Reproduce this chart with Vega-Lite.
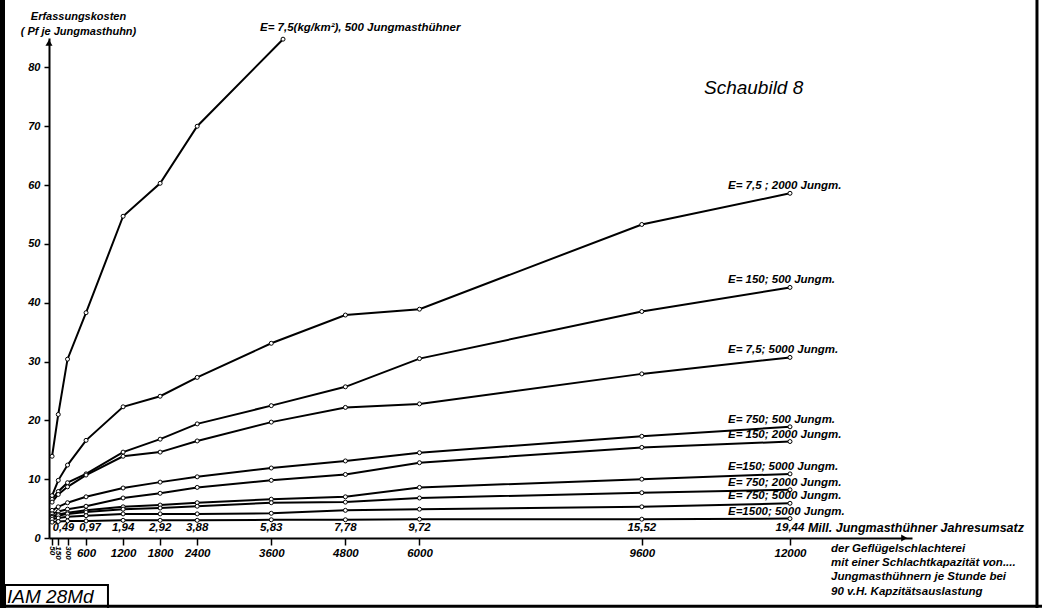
{
  "$schema": "https://vega.github.io/schema/vega-lite/v6.json",
  "width": 863,
  "height": 500,
  "autosize": {"type": "none"},
  "padding": {"left": 49, "top": 38, "right": 130, "bottom": 70},
  "background": "white",
  "config": {
    "view": {"stroke": null},
    "font": "Liberation Sans",
    "axis": {"grid": false, "domainColor": "black", "tickColor": "black", "labelColor": "black", "titleColor": "black", "labelFont": "Liberation Sans", "titleFont": "Liberation Sans", "labelFontStyle": "italic", "labelFontWeight": "bold", "titleFontStyle": "italic", "titleFontWeight": "bold"}
  },
  "datasets": {
    "curves": [
      {"s": "E= 7,5(kg/km²), 500 Jungmasthühner", "x": 50, "y": 13.9},
      {"s": "E= 7,5(kg/km²), 500 Jungmasthühner", "x": 150, "y": 21.0},
      {"s": "E= 7,5(kg/km²), 500 Jungmasthühner", "x": 300, "y": 30.4},
      {"s": "E= 7,5(kg/km²), 500 Jungmasthühner", "x": 600, "y": 38.3},
      {"s": "E= 7,5(kg/km²), 500 Jungmasthühner", "x": 1200, "y": 54.7},
      {"s": "E= 7,5(kg/km²), 500 Jungmasthühner", "x": 1800, "y": 60.3},
      {"s": "E= 7,5(kg/km²), 500 Jungmasthühner", "x": 2400, "y": 70.0},
      {"s": "E= 7,5(kg/km²), 500 Jungmasthühner", "x": 3790, "y": 84.8},

      {"s": "E= 7,5 ; 2000 Jungm.", "x": 50, "y": 7.2},
      {"s": "E= 7,5 ; 2000 Jungm.", "x": 150, "y": 9.8},
      {"s": "E= 7,5 ; 2000 Jungm.", "x": 300, "y": 12.4},
      {"s": "E= 7,5 ; 2000 Jungm.", "x": 600, "y": 16.6},
      {"s": "E= 7,5 ; 2000 Jungm.", "x": 1200, "y": 22.3},
      {"s": "E= 7,5 ; 2000 Jungm.", "x": 1800, "y": 24.1},
      {"s": "E= 7,5 ; 2000 Jungm.", "x": 2400, "y": 27.3},
      {"s": "E= 7,5 ; 2000 Jungm.", "x": 3600, "y": 33.1},
      {"s": "E= 7,5 ; 2000 Jungm.", "x": 4800, "y": 37.9},
      {"s": "E= 7,5 ; 2000 Jungm.", "x": 6000, "y": 38.9},
      {"s": "E= 7,5 ; 2000 Jungm.", "x": 9600, "y": 53.3},
      {"s": "E= 7,5 ; 2000 Jungm.", "x": 12000, "y": 58.6},

      {"s": "E= 150; 500 Jungm.", "x": 50, "y": 6.6},
      {"s": "E= 150; 500 Jungm.", "x": 150, "y": 7.9},
      {"s": "E= 150; 500 Jungm.", "x": 300, "y": 9.4},
      {"s": "E= 150; 500 Jungm.", "x": 600, "y": 10.9},
      {"s": "E= 150; 500 Jungm.", "x": 1200, "y": 14.6},
      {"s": "E= 150; 500 Jungm.", "x": 1800, "y": 16.8},
      {"s": "E= 150; 500 Jungm.", "x": 2400, "y": 19.4},
      {"s": "E= 150; 500 Jungm.", "x": 3600, "y": 22.5},
      {"s": "E= 150; 500 Jungm.", "x": 4800, "y": 25.7},
      {"s": "E= 150; 500 Jungm.", "x": 6000, "y": 30.5},
      {"s": "E= 150; 500 Jungm.", "x": 9600, "y": 38.5},
      {"s": "E= 150; 500 Jungm.", "x": 12000, "y": 42.6},

      {"s": "E= 7,5; 5000 Jungm.", "x": 50, "y": 6.1},
      {"s": "E= 7,5; 5000 Jungm.", "x": 150, "y": 7.4},
      {"s": "E= 7,5; 5000 Jungm.", "x": 300, "y": 8.7},
      {"s": "E= 7,5; 5000 Jungm.", "x": 600, "y": 10.7},
      {"s": "E= 7,5; 5000 Jungm.", "x": 1200, "y": 13.9},
      {"s": "E= 7,5; 5000 Jungm.", "x": 1800, "y": 14.6},
      {"s": "E= 7,5; 5000 Jungm.", "x": 2400, "y": 16.5},
      {"s": "E= 7,5; 5000 Jungm.", "x": 3600, "y": 19.7},
      {"s": "E= 7,5; 5000 Jungm.", "x": 4800, "y": 22.2},
      {"s": "E= 7,5; 5000 Jungm.", "x": 6000, "y": 22.8},
      {"s": "E= 7,5; 5000 Jungm.", "x": 9600, "y": 27.9},
      {"s": "E= 7,5; 5000 Jungm.", "x": 12000, "y": 30.7},

      {"s": "E= 750; 500 Jungm.", "x": 50, "y": 4.7},
      {"s": "E= 750; 500 Jungm.", "x": 150, "y": 5.3},
      {"s": "E= 750; 500 Jungm.", "x": 300, "y": 6.0},
      {"s": "E= 750; 500 Jungm.", "x": 600, "y": 7.0},
      {"s": "E= 750; 500 Jungm.", "x": 1200, "y": 8.5},
      {"s": "E= 750; 500 Jungm.", "x": 1800, "y": 9.5},
      {"s": "E= 750; 500 Jungm.", "x": 2400, "y": 10.4},
      {"s": "E= 750; 500 Jungm.", "x": 3600, "y": 11.9},
      {"s": "E= 750; 500 Jungm.", "x": 4800, "y": 13.1},
      {"s": "E= 750; 500 Jungm.", "x": 6000, "y": 14.5},
      {"s": "E= 750; 500 Jungm.", "x": 9600, "y": 17.3},
      {"s": "E= 750; 500 Jungm.", "x": 12000, "y": 18.9},

      {"s": "E= 150; 2000 Jungm.", "x": 50, "y": 4.1},
      {"s": "E= 150; 2000 Jungm.", "x": 150, "y": 4.5},
      {"s": "E= 150; 2000 Jungm.", "x": 300, "y": 4.9},
      {"s": "E= 150; 2000 Jungm.", "x": 600, "y": 5.4},
      {"s": "E= 150; 2000 Jungm.", "x": 1200, "y": 6.8},
      {"s": "E= 150; 2000 Jungm.", "x": 1800, "y": 7.6},
      {"s": "E= 150; 2000 Jungm.", "x": 2400, "y": 8.6},
      {"s": "E= 150; 2000 Jungm.", "x": 3600, "y": 9.8},
      {"s": "E= 150; 2000 Jungm.", "x": 4800, "y": 10.8},
      {"s": "E= 150; 2000 Jungm.", "x": 6000, "y": 12.8},
      {"s": "E= 150; 2000 Jungm.", "x": 9600, "y": 15.4},
      {"s": "E= 150; 2000 Jungm.", "x": 12000, "y": 16.4},

      {"s": "E=150; 5000 Jungm.", "x": 50, "y": 3.7},
      {"s": "E=150; 5000 Jungm.", "x": 150, "y": 4.0},
      {"s": "E=150; 5000 Jungm.", "x": 300, "y": 4.3},
      {"s": "E=150; 5000 Jungm.", "x": 600, "y": 4.7},
      {"s": "E=150; 5000 Jungm.", "x": 1200, "y": 5.3},
      {"s": "E=150; 5000 Jungm.", "x": 1800, "y": 5.6},
      {"s": "E=150; 5000 Jungm.", "x": 2400, "y": 6.0},
      {"s": "E=150; 5000 Jungm.", "x": 3600, "y": 6.6},
      {"s": "E=150; 5000 Jungm.", "x": 4800, "y": 7.0},
      {"s": "E=150; 5000 Jungm.", "x": 6000, "y": 8.6},
      {"s": "E=150; 5000 Jungm.", "x": 9600, "y": 10.0},
      {"s": "E=150; 5000 Jungm.", "x": 12000, "y": 10.9},

      {"s": "E= 750; 2000 Jungm.", "x": 50, "y": 3.5},
      {"s": "E= 750; 2000 Jungm.", "x": 150, "y": 3.8},
      {"s": "E= 750; 2000 Jungm.", "x": 300, "y": 4.1},
      {"s": "E= 750; 2000 Jungm.", "x": 600, "y": 4.4},
      {"s": "E= 750; 2000 Jungm.", "x": 1200, "y": 4.9},
      {"s": "E= 750; 2000 Jungm.", "x": 1800, "y": 5.1},
      {"s": "E= 750; 2000 Jungm.", "x": 2400, "y": 5.4},
      {"s": "E= 750; 2000 Jungm.", "x": 3600, "y": 6.0},
      {"s": "E= 750; 2000 Jungm.", "x": 4800, "y": 6.1},
      {"s": "E= 750; 2000 Jungm.", "x": 6000, "y": 6.8},
      {"s": "E= 750; 2000 Jungm.", "x": 9600, "y": 7.7},
      {"s": "E= 750; 2000 Jungm.", "x": 12000, "y": 8.2},

      {"s": "E= 750; 5000 Jungm.", "x": 50, "y": 3.2},
      {"s": "E= 750; 5000 Jungm.", "x": 150, "y": 3.4},
      {"s": "E= 750; 5000 Jungm.", "x": 300, "y": 3.6},
      {"s": "E= 750; 5000 Jungm.", "x": 600, "y": 3.8},
      {"s": "E= 750; 5000 Jungm.", "x": 1200, "y": 4.1},
      {"s": "E= 750; 5000 Jungm.", "x": 1800, "y": 4.1},
      {"s": "E= 750; 5000 Jungm.", "x": 2400, "y": 4.1},
      {"s": "E= 750; 5000 Jungm.", "x": 3600, "y": 4.2},
      {"s": "E= 750; 5000 Jungm.", "x": 4800, "y": 4.7},
      {"s": "E= 750; 5000 Jungm.", "x": 6000, "y": 4.9},
      {"s": "E= 750; 5000 Jungm.", "x": 9600, "y": 5.3},
      {"s": "E= 750; 5000 Jungm.", "x": 12000, "y": 5.9},

      {"s": "E=1500; 5000 Jungm.", "x": 50, "y": 2.7},
      {"s": "E=1500; 5000 Jungm.", "x": 150, "y": 2.8},
      {"s": "E=1500; 5000 Jungm.", "x": 300, "y": 2.9},
      {"s": "E=1500; 5000 Jungm.", "x": 600, "y": 2.9},
      {"s": "E=1500; 5000 Jungm.", "x": 1200, "y": 3.0},
      {"s": "E=1500; 5000 Jungm.", "x": 1800, "y": 3.0},
      {"s": "E=1500; 5000 Jungm.", "x": 2400, "y": 3.0},
      {"s": "E=1500; 5000 Jungm.", "x": 3600, "y": 3.1},
      {"s": "E=1500; 5000 Jungm.", "x": 4800, "y": 3.1},
      {"s": "E=1500; 5000 Jungm.", "x": 6000, "y": 3.2},
      {"s": "E=1500; 5000 Jungm.", "x": 9600, "y": 3.2},
      {"s": "E=1500; 5000 Jungm.", "x": 12000, "y": 3.3}
    ],
    "mill": [
      {"cap": 300, "t": "0,49"},
      {"cap": 600, "t": "0,97"},
      {"cap": 1200, "t": "1,94"},
      {"cap": 1800, "t": "2,92"},
      {"cap": 2400, "t": "3,88"},
      {"cap": 3600, "t": "5,83"},
      {"cap": 4800, "t": "7,78"},
      {"cap": 6000, "t": "9,72"},
      {"cap": 9600, "t": "15,52"},
      {"cap": 12000, "t": "19,44"}
    ],
    "small": [
      {"cap": 50, "t": "50"},
      {"cap": 150, "t": "150"},
      {"cap": 300, "t": "300"}
    ],
    "one": [{}]
  },
  "layer": [
    {
      "data": {"name": "curves"},
      "mark": {"type": "line", "color": "black", "strokeWidth": 2},
      "encoding": {
        "x": {"field": "x", "type": "quantitative",
              "scale": {"domain": [0, 13976], "nice": false, "zero": false},
              "axis": {"values": [50, 150, 300, 600, 1200, 1800, 2400, 3600, 4800, 6000, 9600, 12000],
                       "labelExpr": "datum.value < 500 ? '' : datum.label", "format": "d",
                       "title": null, "tickSize": 7, "domainWidth": 2, "tickWidth": 1.5,
                       "labelFontSize": 11.5, "labelPadding": 2, "labelOverlap": false, "labelFlush": false}},
        "y": {"field": "y", "type": "quantitative",
              "scale": {"domain": [0, 85], "nice": false, "zero": false},
              "axis": {"values": [0, 5, 10, 15, 20, 25, 30, 35, 40, 45, 50, 55, 60, 65, 70, 75, 80],
                       "labelExpr": "datum.value % 10 == 0 ? datum.label : ''",
                       "tickSize": 5, "domainWidth": 2, "tickWidth": 1.5, "labelFontSize": 11, "labelPadding": 4,
                       "title": ["Erfassungskosten", "( Pf je Jungmasthuhn)"],
                       "titleAngle": 0, "titleX": 29, "titleY": -28, "titleAlign": "center",
                       "titleBaseline": "top", "titleFontSize": 11, "titleLineHeight": 15}},
        "detail": {"field": "s", "type": "nominal"}
      }
    },
    {
      "data": {"name": "curves"},
      "mark": {"type": "point", "shape": "circle", "filled": true, "fill": "white", "stroke": "black", "strokeWidth": 1, "size": 16, "opacity": 1},
      "encoding": {
        "x": {"field": "x", "type": "quantitative"},
        "y": {"field": "y", "type": "quantitative"}
      }
    },
    {
      "data": {"name": "curves"},
      "transform": [{"filter": "datum.x == 12000"}],
      "mark": {"type": "text", "align": "left", "baseline": "middle", "dx": -62, "dy": -7, "fontSize": 11.5, "fontStyle": "italic", "fontWeight": "bold", "color": "black"},
      "encoding": {
        "x": {"field": "x", "type": "quantitative"},
        "y": {"field": "y", "type": "quantitative"},
        "text": {"field": "s"}
      }
    },
    {
      "data": {"name": "curves"},
      "transform": [{"filter": "datum.x > 3700 && datum.x < 4000"}],
      "mark": {"type": "text", "align": "left", "baseline": "middle", "dx": -23, "dy": -11, "fontSize": 11.5, "fontStyle": "italic", "fontWeight": "bold", "color": "black"},
      "encoding": {
        "x": {"field": "x", "type": "quantitative"},
        "y": {"field": "y", "type": "quantitative"},
        "text": {"field": "s"}
      }
    },
    {
      "data": {"name": "mill"},
      "transform": [{"filter": "datum.cap >= 1200"}],
      "mark": {"type": "text", "align": "center", "baseline": "middle", "dy": -10, "fontSize": 11.5, "fontStyle": "italic", "fontWeight": "bold", "color": "black"},
      "encoding": {
        "x": {"field": "cap", "type": "quantitative"},
        "y": {"datum": 0},
        "text": {"field": "t"}
      }
    },
    {
      "data": {"name": "mill"},
      "transform": [{"filter": "datum.cap == 300"}],
      "mark": {"type": "text", "align": "center", "baseline": "middle", "dx": -4, "dy": -10, "fontSize": 11, "fontStyle": "italic", "fontWeight": "bold", "color": "black"},
      "encoding": {
        "x": {"field": "cap", "type": "quantitative"},
        "y": {"datum": 0},
        "text": {"field": "t"}
      }
    },
    {
      "data": {"name": "mill"},
      "transform": [{"filter": "datum.cap == 600"}],
      "mark": {"type": "text", "align": "center", "baseline": "middle", "dx": 4, "dy": -10, "fontSize": 11, "fontStyle": "italic", "fontWeight": "bold", "color": "black"},
      "encoding": {
        "x": {"field": "cap", "type": "quantitative"},
        "y": {"datum": 0},
        "text": {"field": "t"}
      }
    },
    {
      "data": {"name": "small"},
      "mark": {"type": "text", "align": "left", "baseline": "middle", "angle": 90, "fontSize": 8, "fontStyle": "italic", "fontWeight": "bold", "color": "black"},
      "encoding": {
        "x": {"field": "cap", "type": "quantitative"},
        "y": {"datum": -1.4},
        "text": {"field": "t"}
      }
    },
    {
      "data": {"name": "one"},
      "mark": {"type": "text", "align": "left", "baseline": "middle", "fontSize": 12.5, "fontStyle": "italic", "fontWeight": "bold", "color": "black", "dy": -10},
      "encoding": {
        "x": {"datum": 12291},
        "y": {"datum": 0},
        "text": {"value": "Mill. Jungmasthühner Jahresumsatz"}
      }
    },
    {
      "data": {"name": "one"},
      "mark": {"type": "text", "align": "left", "baseline": "top", "fontSize": 11.5, "fontStyle": "italic", "fontWeight": "bold", "color": "black", "lineHeight": 14.3, "lineBreak": "\n"},
      "encoding": {
        "x": {"datum": 12664},
        "y": {"datum": -0.8},
        "text": {"value": "der Geflügelschlachterei\nmit einer Schlachtkapazität von....\nJungmasthühnern je Stunde bei\n90 v.H. Kapzitätsauslastung"}
      }
    },
    {
      "data": {"name": "one"},
      "mark": {"type": "text", "align": "left", "baseline": "middle", "fontSize": 19, "fontStyle": "italic", "color": "black"},
      "encoding": {
        "x": {"datum": 10607},
        "y": {"datum": 76.5},
        "text": {"value": "Schaubild  8"}
      }
    },
    {
      "data": {"name": "one"},
      "mark": {"type": "rect", "fill": "white", "stroke": "black", "strokeWidth": 2},
      "encoding": {
        "x": {"datum": -712},
        "x2": {"datum": 955},
        "y": {"datum": -8.0},
        "y2": {"datum": -12.5}
      }
    },
    {
      "data": {"name": "one"},
      "mark": {"type": "text", "align": "left", "baseline": "middle", "fontSize": 19, "fontStyle": "italic", "color": "black"},
      "encoding": {
        "x": {"datum": -680},
        "y": {"datum": -10.1},
        "text": {"value": "IAM  28Md"}
      }
    },
    {
      "data": {"name": "one"},
      "mark": {"type": "rule", "color": "black", "strokeWidth": 5},
      "encoding": {
        "x": {"datum": -753},
        "y": {"datum": 92},
        "y2": {"datum": -12.5}
      }
    },
    {
      "data": {"name": "one"},
      "mark": {"type": "rule", "color": "black", "strokeWidth": 3},
      "encoding": {
        "x": {"datum": 16000},
        "y": {"datum": 92},
        "y2": {"datum": -12.5}
      }
    },
    {
      "data": {"name": "one"},
      "mark": {"type": "rule", "color": "black", "strokeWidth": 3},
      "encoding": {
        "x": {"datum": -800},
        "x2": {"datum": 16100},
        "y": {"datum": -11.6}
      }
    },
    {
      "data": {"name": "one"},
      "mark": {"type": "point", "shape": "triangle-up", "filled": true, "color": "black", "size": 50, "opacity": 1},
      "encoding": {
        "x": {"datum": 0},
        "y": {"datum": 84.2}
      }
    },
    {
      "data": {"name": "one"},
      "mark": {"type": "point", "shape": "triangle-right", "filled": true, "color": "black", "size": 50, "opacity": 1},
      "encoding": {
        "x": {"datum": 13850},
        "y": {"datum": 0}
      }
    }
  ]
}
